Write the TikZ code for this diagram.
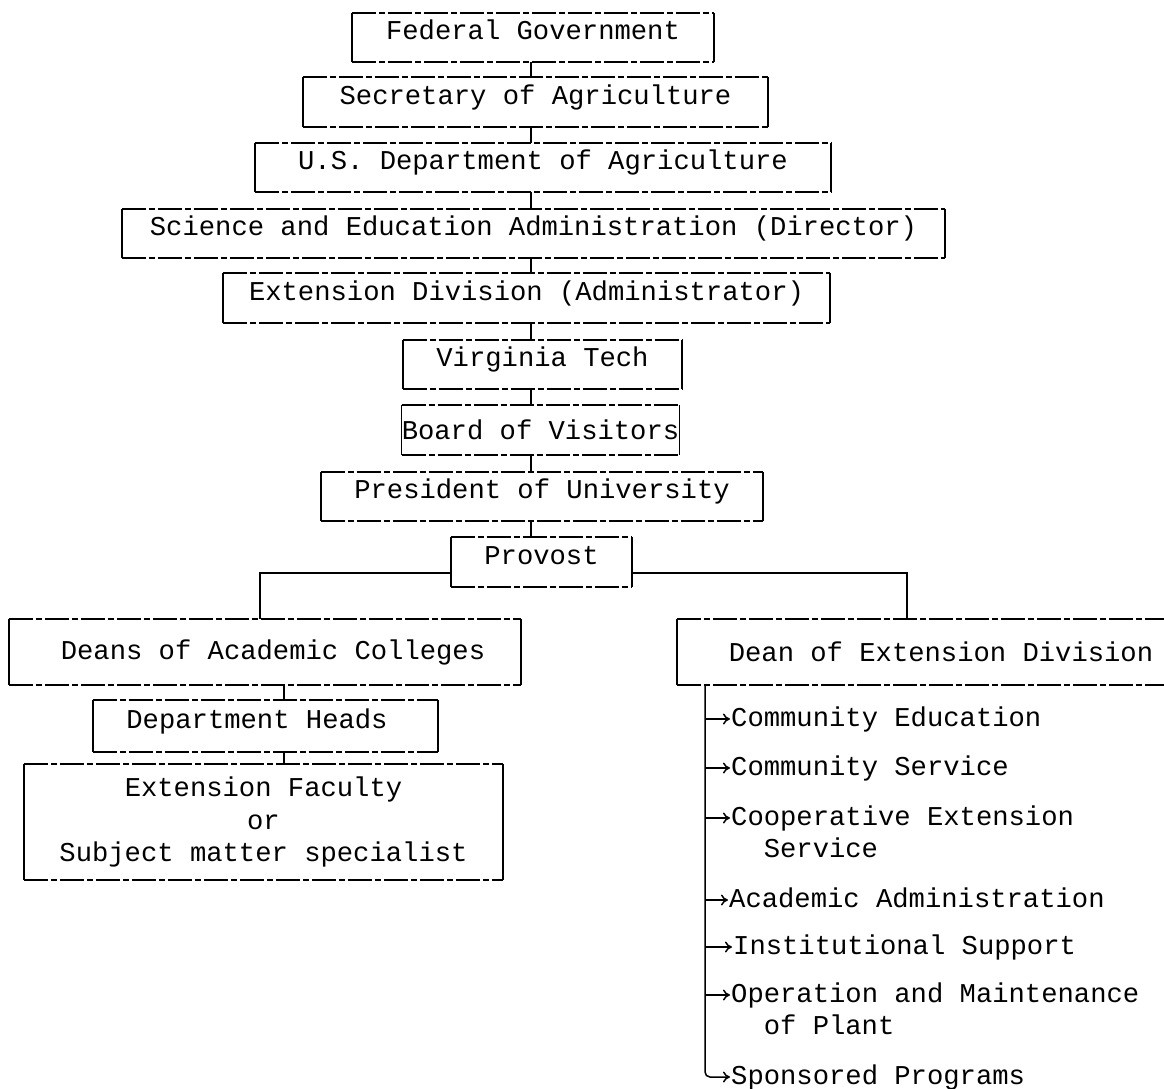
\documentclass[tikz,border=0pt]{standalone}
\usepackage{fontspec}
\setmainfont{Liberation Mono}
\usetikzlibrary{arrows.meta}
\newcommand{\chartfont}{\fontsize{27.2}{32.5}\selectfont}
\tikzset{
  box/.style={draw=none, inner sep=0pt, font=\chartfont, text height=12pt, text depth=8pt},
  boxc/.style={draw=none, inner sep=0pt, font=\chartfont},
  edgeh/.style={line width=1.5pt, dash pattern=on 24pt off 3pt on 6pt off 3pt},
  edgev/.style={line width=1.5pt},
  conn/.style={line width=1.5pt},
  arr/.style={-{To[length=7pt,width=11pt]}},
  item/.style={inner sep=0pt, font=\chartfont, anchor=base west}
}
\begin{document}
\begin{tikzpicture}[x=1pt,y=-1pt]
\clip (0,0) rectangle (1164,1088);
\fill[white] (0,0) rectangle (1164,1088);
% boxes
\node[box, minimum width=362pt, minimum height=49pt] (fg) at (533,37.5) {Federal Government};
\node[box, minimum width=465pt, minimum height=50pt] (sa) at (535.5,102) {Secretary of Agriculture};
\node[box, minimum width=576pt, minimum height=49pt] (ud) at (543,167.5) {U.S. Department of Agriculture};
\node[box, minimum width=823pt, minimum height=49pt] (se) at (533.5,233.5) {Science and Education Administration (Director)};
\node[box, minimum width=607pt, minimum height=50pt] (ed) at (526.5,298) {Extension Division (Administrator)};
\node[box, minimum width=279pt, minimum height=49pt] (vt) at (542.5,364.5) {Virginia Tech};
\node[boxc, minimum width=277pt, minimum height=50pt] (bv) at (540.5,430) {Board of Visitors};
\node[box, minimum width=442pt, minimum height=49pt] (pu) at (542,496.5) {President of University};
\node[box, minimum width=181pt, minimum height=50pt] (pv) at (541.5,562) {Provost};
\node[boxc, minimum width=512pt, minimum height=66pt] (dn) at (265,652) {\hspace*{16pt}Deans of Academic Colleges};
\node[boxc, minimum width=503pt, minimum height=66pt] (de) at (928.5,652) {\hspace*{25pt}Dean of Extension Division};
\node[box, minimum width=345pt, minimum height=52pt] (dh) at (265.5,726) {Department Heads\hspace*{17pt}};
\node[boxc, minimum width=479pt, minimum height=116pt, align=center] (ef) at (263.5,822) {Extension Faculty\\or\\Subject matter specialist};
% box borders: dashed top and bottom, solid sides
\foreach \n in {fg,sa,ud,se,ed,vt,bv,pu,pv,dn,de,dh,ef}{
  \draw[edgeh] (\n.north west) -- (\n.north east);
  \draw[edgeh] (\n.south west) -- (\n.south east);
  \draw[edgev] (\n.north west) -- (\n.south west);
  \draw[edgev] (\n.north east) -- (\n.south east);
}
% top chain
\coordinate (spine) at (531,0);
\foreach \a/\b in {fg/sa,sa/ud,ud/se,se/ed,ed/vt,vt/bv,bv/pu,pu/pv}{
  \draw[conn] (\a.south -| spine) -- (\b.north -| spine);
}
% provost branches
\coordinate (ldrop) at (260,0);
\coordinate (rdrop) at (907,0);
\draw[conn] ([yshift=-11pt]pv.west) -| (ldrop |- dn.north);
\draw[conn] ([yshift=-11pt]pv.east) -| (rdrop |- de.north);
% left column
\coordinate (dspine) at (284,0);
\draw[conn] (dn.south -| dspine) -- (dh.north -| dspine);
\draw[conn] (dh.south -| dspine) -- (ef.north -| dspine);
% right list
\node[item] (i1) at (731,726) {Community Education};
\node[item] (i2) at (731,775) {Community Service};
\node[item] (i3) at (731,825) {Cooperative Extension};
\node[item] (i3b) at ([xshift=32.6pt,yshift=-32pt]i3.base west) {Service};
\node[item] (i4) at (729,907) {Academic Administration};
\node[item] (i5) at (733,954) {Institutional Support};
\node[item] (i6) at (731,1002) {Operation and Maintenance};
\node[item] (i6b) at ([xshift=32.6pt,yshift=-32pt]i6.base west) {of Plant};
\node[item] (i7) at (731,1084) {Sponsored Programs};
\coordinate (trunk) at (705,0);
\foreach \i in {1,...,7}{
  \coordinate (a\i) at ([xshift=-1pt,yshift=7pt]i\i.base west);
}
\draw[conn, arr, rounded corners=5pt] (de.south -| trunk) |- (a7);
\foreach \i in {1,...,6}{
  \draw[conn, arr] (trunk |- a\i) -- (a\i);
}
\end{tikzpicture}
\end{document}
